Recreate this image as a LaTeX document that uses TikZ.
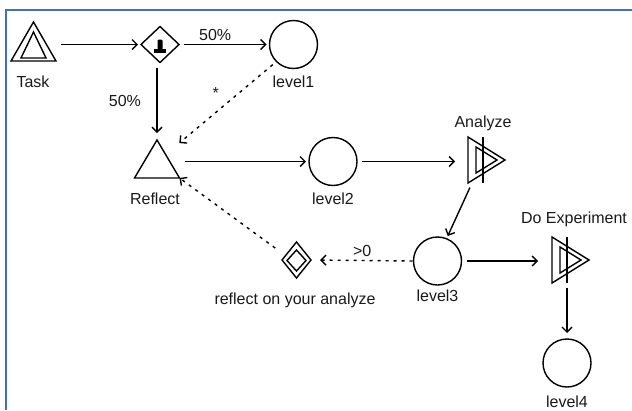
\documentclass[tikz,border=0pt]{standalone}
\usepackage{fontspec}
\setmainfont{Liberation Sans}
\usetikzlibrary{arrows.meta,shapes.geometric}
\definecolor{frameblue}{RGB}{68,114,176}

\begin{document}
\begin{tikzpicture}[x=1pt,y=-1pt,line width=1.4pt,
	every node/.style={font=\fontsize{16}{19}\selectfont,text=black!90},
	flow/.style={-{Straight Barb[length=5pt,width=10pt]},shorten <=5pt,shorten >=3pt},
	dots/.style={flow,dash pattern=on 3pt off 5pt},
	place/.style={circle,draw,minimum size=48pt,inner sep=0pt,outer sep=0pt},
	gate/.style={diamond,draw,inner sep=0pt,outer sep=0pt},
	box/.style={rectangle,inner sep=0pt,outer sep=0pt}]

	\useasboundingbox (0,0) rectangle (632,410);
	\draw[frameblue,line width=2pt] (6,410) -- (6,10) -- (632,10);

	% task
	\node[box,minimum width=45pt,minimum height=39pt] (Task) at (33.5,41.5) {};
		\draw (Task.south west) -- (Task.north) -- (Task.south east) -- cycle;
		\draw ([xshift=10pt,yshift=3pt]Task.south west) -- ([yshift=-10pt]Task.north) -- ([xshift=-10pt,yshift=3pt]Task.south east) -- cycle;
	\node (tTask) at (33,82) {Task};

	% split
	\node[gate,minimum width=38pt,minimum height=36pt] (Gw) at (160,44.5) {};
		\fill[rounded corners=1pt] ([xshift=-2.5pt,yshift=-5pt]Gw.center) rectangle ([xshift=2.5pt,yshift=5pt]Gw.center);
		\fill ([xshift=-6pt,yshift=-8pt]Gw.center) rectangle ([xshift=6pt,yshift=-4.5pt]Gw.center);

	\node[place] (L1) at (293.5,44.5) {};
	\node (tL1) at (293.5,82) {level1};

	% reflect
	\node[box,minimum width=45pt,minimum height=38pt] (Refl) at (157,159) {};
		\draw (Refl.south west) -- (Refl.north) -- (Refl.south east) -- cycle;
	\node (tRefl) at (155,199) {Reflect};

	\node[place] (L2) at (333,161.5) {};
	\node (tL2) at (333,199) {level2};

	% analyze
	\node[box,minimum width=37pt,minimum height=46pt] (Ana) at (486.5,160) {};
		\draw (Ana.north west) -- (Ana.east) -- (Ana.south west) -- cycle;
		\draw ([xshift=8pt,yshift=-10pt]Ana.north west) -- ([xshift=-8pt]Ana.east) -- ([xshift=8pt,yshift=10pt]Ana.south west) -- cycle;
		\draw ([xshift=15pt]Ana.north west) -- ([xshift=15pt]Ana.south west);
	\node (tAna) at (483,123) {Analyze};

	\node[place] (L3) at (437.5,261) {};
	\node (tL3) at (437.5,296) {level3};

	% experiment
	\node[box,minimum width=37pt,minimum height=46pt] (DoE) at (570.5,260) {};
		\draw (DoE.north west) -- (DoE.east) -- (DoE.south west) -- cycle;
		\draw ([xshift=8pt,yshift=-10pt]DoE.north west) -- ([xshift=-8pt]DoE.east) -- ([xshift=8pt,yshift=10pt]DoE.south west) -- cycle;
		\draw ([xshift=15pt]DoE.north west) -- ([xshift=15pt]DoE.south west);
	\node (tDoE) at (574,219) {Do Experiment};

	\node[place] (L4) at (567,363) {};
	\node (tL4) at (567,402) {level4};

	% back to reflect
	\node[gate,minimum width=29pt,minimum height=36pt] (Dia) at (296.5,260) {};
	\node[gate,minimum width=19pt,minimum height=21pt] (DiaIn) at (296.5,260.5) {};
	\node (tDia) at (295,300) {reflect on your analyze};

	% arcs
	\draw[flow] (Task.south east |- Gw.west) -- (Gw.west);
	\draw[flow] (Gw.east) -- node[above,pos=0.4] {50\%} (L1.west);
	\draw[flow,shorten >=7pt] (Refl.north |- Gw.south) -- node[left=12pt] {50\%} (Refl.north);
	\draw[dots] (L1.225) -- node[pos=0.52,above left=2pt] {*} ([xshift=20pt,yshift=-5pt]Refl.north);
	\draw[flow] (Refl.south east |- L2.west) -- (L2.west);
	\draw[flow,shorten >=13pt] (L2.east) -- (L2.east -| Ana.west);
	\draw[flow] ([xshift=4pt]Ana.south west) -- (L3.68);
	\draw[flow,shorten >=14pt] (L3.east) -- (L3.east -| DoE.west);
	\draw[flow,shorten >=6pt] ([xshift=15pt]DoE.south west) -- (L4.north);
	\draw[dots,shorten <=1pt,shorten >=9pt] (L3.west) -- node[above] {>0} (Dia.east);
	\draw[dots,shorten >=0pt] ([xshift=-10pt]Dia.north west) -- (Refl.south east);

\end{tikzpicture}
\end{document}
